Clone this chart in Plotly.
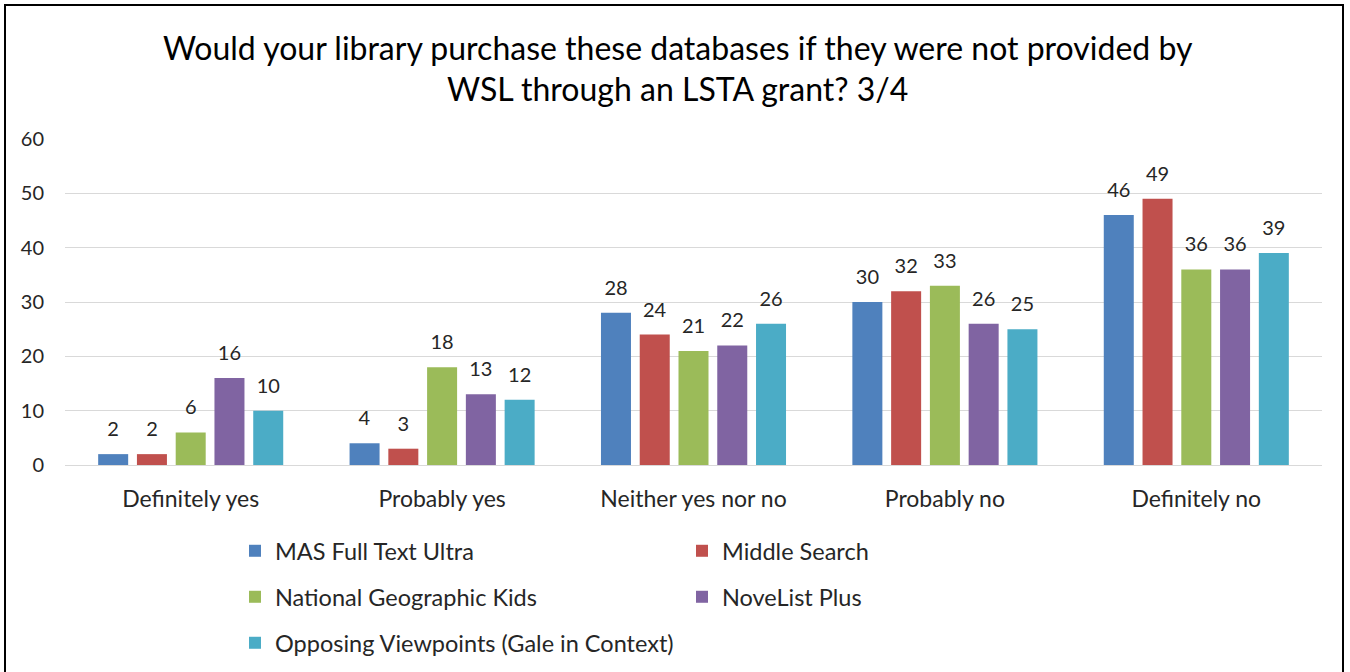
import plotly.graph_objects as go

categories = ["Definitely yes", "Probably yes", "Neither yes nor no", "Probably no", "Definitely no"]
series_names = ["MAS Full Text Ultra", "Middle Search", "National Geographic Kids",
                "NoveList Plus", "Opposing Viewpoints (Gale in Context)"]
mas = [2, 4, 28, 30, 46]
middle = [2, 3, 24, 32, 49]
natgeo = [6, 18, 21, 33, 36]
novelist = [16, 13, 22, 26, 36]
opposing = [10, 12, 26, 25, 39]
values = [mas, middle, natgeo, novelist, opposing]
colors = ["#4F81BD", "#C0504D", "#9BBB59", "#8064A2", "#4BACC6"]
legend_ids = ["legend", "legend", "legend2", "legend2", "legend3"]

FONT = "Lato"
W, H = 1350, 672
ML, MR, MT, MB = 65, 28, 139, 207
PW, PH = W - ML - MR, H - MT - MB

def px_x(x):
    return (x - ML) / PW

def px_y(y):
    return (H - MB - y) / PH

fig = go.Figure()
for name, vals, col, lg in zip(series_names, values, colors, legend_ids):
    fig.add_trace(go.Bar(
        name=name, x=categories, y=vals,
        marker=dict(color=col, line=dict(width=0)),
        text=vals, textposition="outside", cliponaxis=False,
        texttemplate="<span style='font-size:20px'>%{text}</span><br> ",
        textfont=dict(family=FONT, size=10, color="#262626"),
        constraintext="none",
        legend=lg,
    ))

leg_common = dict(orientation="h", xanchor="left", yanchor="middle",
                  xref="container", yref="container",
                  font=dict(family=FONT, size=23.5, color="#262626"),
                  entrywidth=402, entrywidthmode="pixels",
                  bgcolor="rgba(0,0,0,0)", itemclick=False, itemdoubleclick=False)

fig.update_layout(
    width=W, height=H,
    margin=dict(l=ML, r=MR, t=MT, b=MB),
    paper_bgcolor="white", plot_bgcolor="white",
    barmode="group", bargap=0.229, bargroupgap=0.226,
    title=dict(text="Would your library purchase these databases if they were not provided by<br>WSL through an LSTA grant? 3/4",
               x=0.502, xref="container", xanchor="center",
               y=1 - 59.5 / H, yref="container", yanchor="middle",
               font=dict(family=FONT, size=32, color="black")),
    xaxis=dict(showgrid=False, showline=False, zeroline=False, ticks="",
               tickfont=dict(family=FONT, size=23, color="#262626"),
               ticklabelstandoff=18),
    yaxis=dict(range=[0, 60], dtick=10, showgrid=True, gridcolor="#D9D9D9", gridwidth=1,
               zeroline=True, zerolinecolor="#D9D9D9", zerolinewidth=1,
               showline=False, ticks="",
               tickfont=dict(family=FONT, size=20, color="#262626"),
               ticklabelstandoff=20),
    legend=dict(x=235 / W, y=1 - 551 / H, **leg_common),
    legend2=dict(x=235 / W, y=1 - 597 / H, **leg_common),
    legend3=dict(x=235 / W, y=1 - 643 / H, **leg_common),
    shapes=[dict(type="rect", xref="paper", yref="paper",
                 x0=px_x(5), x1=px_x(1343), y0=px_y(690), y1=px_y(5),
                 line=dict(color="black", width=2), fillcolor="rgba(0,0,0,0)", layer="below")],
    showlegend=True,
)

fig.write_html("out.html", config={"displayModeBar": False},
               post_script="document.body.style.margin='0';")
